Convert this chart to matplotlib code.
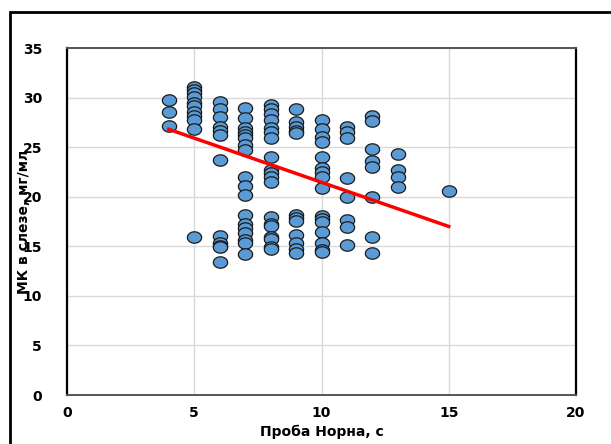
import numpy as np
import matplotlib
matplotlib.use("Agg")
import matplotlib.pyplot as plt
from matplotlib.path import Path
from matplotlib.patches import Rectangle

# Norn test time (s) for each observation
norn_s = (
    [4] * 3
    + [5] * 11
    + [6] * 12
    + [7] * 18
    + [8] * 19
    + [9] * 12
    + [10] * 16
    + [11] * 8
    + [12] * 8
    + [13] * 4
    + [15]
)
# value in tears, mg/ml
mk_tear = [
    29.8, 28.5, 27.1,
    31.1, 30.8, 30.5, 30.1, 29.5, 29.1, 28.5, 28.1, 27.7, 26.8, 15.9,
    29.6, 28.8, 28.0, 27.0, 26.6, 26.2, 23.7, 16.0, 15.3, 15.0, 14.9, 13.4,
    28.9, 27.9, 26.9, 26.5, 26.2, 25.9, 25.2, 24.7, 22.0, 21.1, 20.2, 18.2,
    17.2, 16.8, 16.3, 15.6, 15.3, 14.2,
    29.3, 28.8, 28.3, 27.7, 26.9, 26.5, 25.9, 24.0, 22.7, 22.4, 22.0, 21.5,
    18.0, 17.2, 17.0, 15.9, 15.7, 14.9, 14.7,
    28.8, 27.5, 27.0, 26.6, 26.4, 18.2, 17.9, 17.6, 16.1, 15.3, 14.7, 14.3,
    27.7, 26.8, 26.0, 25.5, 24.0, 22.9, 22.5, 22.0, 20.9, 18.1, 17.8, 17.4,
    16.4, 15.3, 14.6, 14.4,
    27.0, 26.5, 25.9, 21.9, 20.0, 17.7, 16.9, 15.1,
    28.1, 27.6, 24.8, 23.6, 23.0, 20.0, 15.9, 14.3,
    24.3, 22.7, 22.0, 21.0,
    20.6,
]

# linear trend as drawn (endpoints)
trend_x = [4, 15]
trend_y = [26.8, 17.0]

x_ticks = [0, 5, 10, 15, 20]
y_ticks = [0, 5, 10, 15, 20, 25, 30, 35]

plt.rcParams["font.family"] = ["DejaVu Sans"]

fig = plt.figure(figsize=(6.11, 4.44), dpi=100)
ax = fig.add_axes([67 / 611, 49 / 444, 509 / 611, 347 / 444])

# outer chart frame (clipped by the picture on the right and bottom)
fig.patches.append(Rectangle((10 / 611, -0.05), 1.2, 1 - 12 / 444 + 0.05,
                             transform=fig.transFigure, fill=False,
                             edgecolor="black", linewidth=2.0, zorder=0))

# slightly flattened circle, like the Excel marker
t = np.linspace(0, 2 * np.pi, 60)
ellipse = Path(np.column_stack([np.cos(t), 0.8 * np.sin(t)]), closed=True)

ax.scatter(norn_s, mk_tear, marker=ellipse, s=105, facecolor="#5B9BD5",
           edgecolor="#1a1a1a", linewidth=0.9, zorder=3)
ax.plot(trend_x, trend_y, color="#FF0000", linewidth=2.5, zorder=4)

ax.set_xlim(0, 20)
ax.set_ylim(0, 35)
ax.set_xticks(x_ticks)
ax.set_yticks(y_ticks)
ax.grid(True, color="#d9d9d9", linewidth=1.0, zorder=0)
ax.set_axisbelow(True)
ax.tick_params(length=0, labelsize=10, pad=8)
for lbl in ax.get_xticklabels() + ax.get_yticklabels():
    lbl.set_fontweight("bold")
ax.tick_params(axis="y", pad=18)

for side in ["left", "right"]:
    ax.spines[side].set_color("black")
    ax.spines[side].set_linewidth(1.6)
for side in ["top", "bottom"]:
    ax.spines[side].set_color("#555555")
    ax.spines[side].set_linewidth(1.4)

ax.set_xlabel("Проба Норна, с", fontsize=10, fontweight="bold", labelpad=3)
# the label sits over the tick numbers, as in the original chart
ax.set_ylabel("МК в слезе, мг/мл", fontsize=10, fontweight="bold")
ax.yaxis.set_label_coords(-0.07, 0.5)

fig.savefig("out.png", dpi=100)
